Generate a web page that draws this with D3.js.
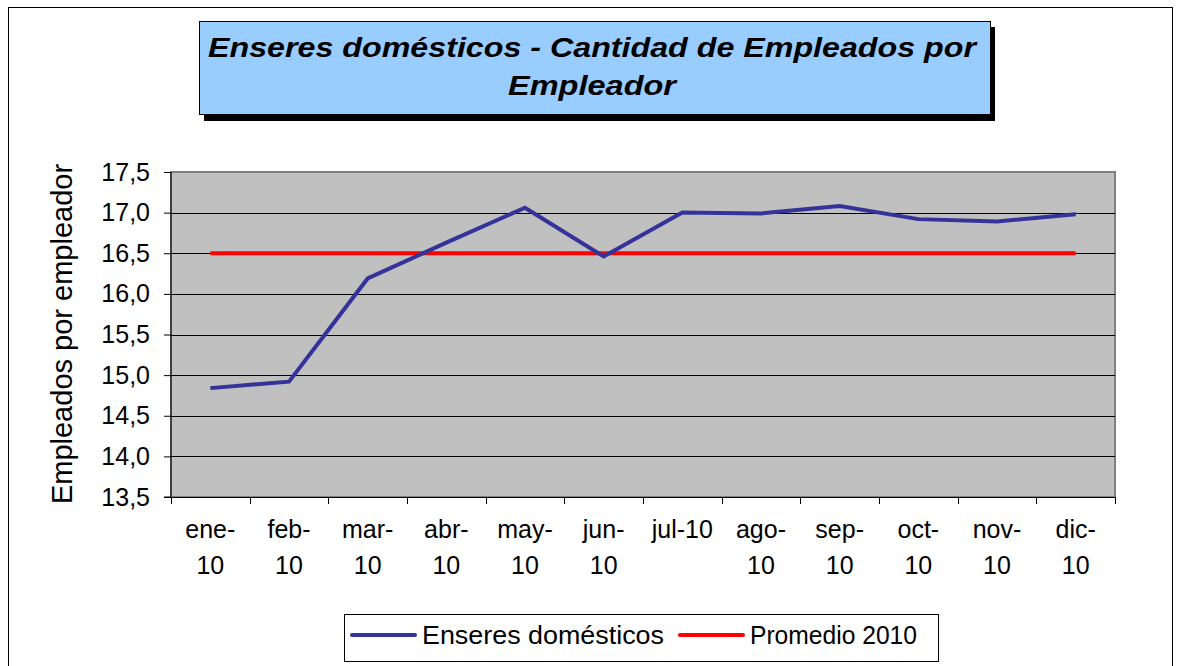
<!DOCTYPE html>
<html lang="es">
<head>
<meta charset="UTF-8">
<title>Enseres domésticos</title>
<style>
    body { margin: 0; background: #fff; }
    svg text { font-family: "Liberation Sans", Arial, sans-serif; }
</style>
</head>
<body>
<div id="chart"></div>
<script src="https://cdn.jsdelivr.net/npm/d3@7"></script>
<script>
// data
var months = ["ene-10", "feb-10", "mar-10", "abr-10", "may-10", "jun-10",
              "jul-10", "ago-10", "sep-10", "oct-10", "nov-10", "dic-10"];
var enseres = [14.84, 14.92, 16.19, 16.63, 17.06, 16.46, 17.00, 16.99, 17.08, 16.92, 16.89, 16.98];
var promedio = [16.50, 16.50, 16.50, 16.50, 16.50, 16.50, 16.50, 16.50, 16.50, 16.50, 16.50, 16.50];
var yTicks = [13.5, 14.0, 14.5, 15.0, 15.5, 16.0, 16.5, 17.0, 17.5];
var seriesNames = ["Enseres domésticos", "Promedio 2010"];
var titleLines = ["Enseres domésticos - Cantidad de Empleados por", "Empleador"];
var yTitle = "Empleados por empleador";

var width = 1180, height = 666;
var plot = {left: 171, top: 172, right: 1115, bottom: 497};

var svg = d3.select("#chart").append("svg")
    .attr("width", width)
    .attr("height", height);

// outer chart border
svg.append("rect")
    .attr("x", 8.5).attr("y", 7.5)
    .attr("width", 1164).attr("height", 700)
    .attr("fill", "#fff")
    .attr("stroke", "#000").attr("stroke-width", 1);

// title box with shadow
svg.append("rect")
    .attr("x", 204).attr("y", 27)
    .attr("width", 791).attr("height", 94)
    .attr("fill", "#000");
svg.append("rect")
    .attr("x", 199.5).attr("y", 21.5)
    .attr("width", 791).attr("height", 93)
    .attr("fill", "#99ccff")
    .attr("stroke", "#000").attr("stroke-width", 1);
var titleLen = [768, 168];
svg.append("g").selectAll("text")
    .data(titleLines)
    .enter().append("text")
    .attr("x", 592)
    .attr("y", function(d, i) { return 57 + i * 38; })
    .attr("text-anchor", "middle")
    .attr("textLength", function(d, i) { return titleLen[i]; })
    .attr("lengthAdjust", "spacingAndGlyphs")
    .style("font-size", "28px")
    .style("font-weight", "bold")
    .style("font-style", "italic")
    .text(function(d) { return d; });

// scales
var x = d3.scaleBand()
    .domain(months)
    .range([plot.left, plot.right]);

var y = d3.scaleLinear()
    .domain([13.5, 17.5])
    .range([plot.bottom, plot.top]);

// plot area
svg.append("rect")
    .attr("x", plot.left).attr("y", plot.top)
    .attr("width", plot.right - plot.left)
    .attr("height", plot.bottom - plot.top)
    .attr("fill", "#c0c0c0")
    .attr("stroke", "#808080").attr("stroke-width", 2);

// gridlines
svg.append("g").selectAll("line")
    .data(yTicks.slice(1, -1))
    .enter().append("line")
    .attr("x1", plot.left).attr("x2", plot.right)
    .attr("y1", function(d) { return Math.round(y(d)) + 0.5; })
    .attr("y2", function(d) { return Math.round(y(d)) + 0.5; })
    .attr("stroke", "#000").attr("stroke-width", 1);

// y axis
var yAxis = d3.axisLeft(y)
    .tickValues(yTicks)
    .tickSize(7)
    .tickPadding(14)
    .tickFormat(function(d) { return d3.format(".1f")(d).replace(".", ","); });

var gy = svg.append("g")
    .attr("transform", "translate(" + plot.left + ",0)")
    .call(yAxis);
gy.selectAll("text").style("font-size", "25px").attr("fill", "#000");
gy.selectAll("line").attr("stroke", "#000");
gy.select(".domain").attr("stroke", "#000").attr("d", "M-7," + plot.bottom + "H0V" + plot.top);

// x axis: ticks on category boundaries
var bounds = months.map(function(m) { return x(m); }).concat([plot.right]);
svg.append("g").selectAll("line")
    .data(bounds)
    .enter().append("line")
    .attr("x1", function(d) { return Math.round(d) + 0.5; })
    .attr("x2", function(d) { return Math.round(d) + 0.5; })
    .attr("y1", plot.bottom).attr("y2", plot.bottom + 7)
    .attr("stroke", "#000");
svg.append("line")
    .attr("x1", plot.left).attr("x2", plot.right)
    .attr("y1", plot.bottom + 0.5).attr("y2", plot.bottom + 0.5)
    .attr("stroke", "#000");

// category labels, wrapped after the hyphen when too wide
var xLabels = svg.append("g").selectAll("text")
    .data(months)
    .enter().append("text")
    .attr("x", function(d) { return x(d) + x.bandwidth() / 2; })
    .attr("y", 538)
    .attr("text-anchor", "middle")
    .style("font-size", "25px")
    .text(function(d) { return d; });

xLabels.each(function(d) {
    var t = d3.select(this);
    if (this.getComputedTextLength() > 66) {
        var parts = d.split("-");
        t.text(null);
        t.append("tspan").attr("x", x(d) + x.bandwidth() / 2).text(parts[0] + "-");
        t.append("tspan").attr("x", x(d) + x.bandwidth() / 2).attr("dy", 36).text(parts[1]);
    }
});

// y axis title
svg.append("text")
    .attr("transform", "translate(72,334) rotate(-90)")
    .attr("text-anchor", "middle")
    .style("font-size", "29px")
    .text(yTitle);

// lines
var line = d3.line()
    .x(function(d, i) { return x(months[i]) + x.bandwidth() / 2; })
    .y(function(d) { return y(d); });

svg.append("path")
    .datum(promedio)
    .attr("d", line)
    .attr("fill", "none")
    .attr("stroke", "#ff0000")
    .attr("stroke-width", 4);

svg.append("path")
    .datum(enseres)
    .attr("d", line)
    .attr("fill", "none")
    .attr("stroke", "#333399")
    .attr("stroke-width", 4)
    .attr("stroke-linejoin", "miter");

// legend
var legend = svg.append("g");
legend.append("rect")
    .attr("x", 344.5).attr("y", 614.5)
    .attr("width", 594).attr("height", 47)
    .attr("fill", "#fff")
    .attr("stroke", "#000").attr("stroke-width", 1);

var legendItems = [
    {name: seriesNames[0], color: "#333399", x0: 352, len: 242},
    {name: seriesNames[1], color: "#ff0000", x0: 680, len: 167}
];
legendItems.forEach(function(it) {
    legend.append("line")
        .attr("x1", it.x0).attr("x2", it.x0 + 63)
        .attr("y1", 635).attr("y2", 635)
        .attr("stroke", it.color).attr("stroke-width", 4)
        .attr("stroke-linecap", "round");
    legend.append("text")
        .attr("x", it.x0 + 70).attr("y", 644)
        .attr("textLength", it.len)
        .attr("lengthAdjust", "spacingAndGlyphs")
        .style("font-size", "25px")
        .text(it.name);
});
</script>
</body>
</html>
